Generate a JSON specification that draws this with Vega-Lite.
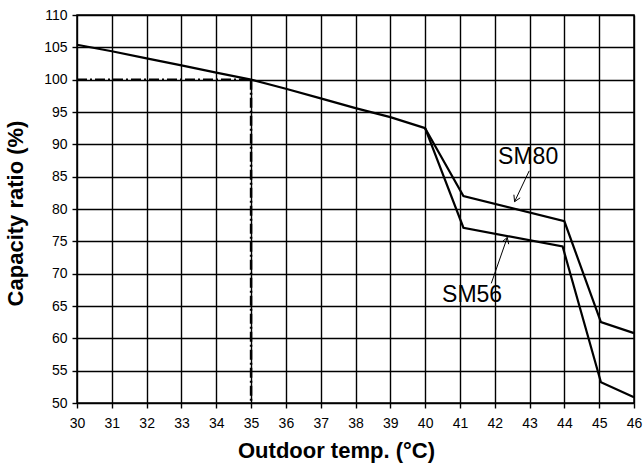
{
  "$schema": "https://vega.github.io/schema/vega-lite/v6.json",
  "width": 557,
  "height": 388,
  "autosize": "none",
  "padding": {"left": 77, "top": 15, "right": 9, "bottom": 64},
  "background": "white",
  "config": {
    "font": "Liberation Sans",
    "view": {"stroke": "black", "strokeWidth": 1.5},
    "axis": {
      "grid": true,
      "gridColor": "black",
      "gridWidth": 1.4,
      "gridOpacity": 1,
      "domain": false,
      "tickColor": "black",
      "tickSize": 5,
      "tickWidth": 1.4,
      "labelColor": "black",
      "labelFontSize": 14,
      "labelFont": "Liberation Sans",
      "labelOverlap": false,
      "labelFlush": false,
      "titleColor": "black",
      "titleFont": "Liberation Sans",
      "titleFontSize": 22,
      "titleFontWeight": "bold"
    }
  },
  "datasets": {
    "curves": [
      {"g": "base", "x": 30, "y": 105.4},
      {"g": "base", "x": 31, "y": 104.4},
      {"g": "base", "x": 32, "y": 103.3},
      {"g": "base", "x": 33, "y": 102.2},
      {"g": "base", "x": 34, "y": 101.1},
      {"g": "base", "x": 35, "y": 100.0},
      {"g": "base", "x": 36, "y": 98.6},
      {"g": "base", "x": 37, "y": 97.1},
      {"g": "base", "x": 38, "y": 95.6},
      {"g": "base", "x": 39, "y": 94.2},
      {"g": "base", "x": 40, "y": 92.5},
      {"g": "SM80", "x": 40, "y": 92.5},
      {"g": "SM80", "x": 41.1, "y": 82.0},
      {"g": "SM80", "x": 44.0, "y": 78.1},
      {"g": "SM80", "x": 45.05, "y": 62.5},
      {"g": "SM80", "x": 46, "y": 60.8},
      {"g": "SM56", "x": 40, "y": 92.5},
      {"g": "SM56", "x": 41.1, "y": 77.1},
      {"g": "SM56", "x": 43.95, "y": 74.2},
      {"g": "SM56", "x": 45.05, "y": 53.2},
      {"g": "SM56", "x": 46, "y": 50.9}
    ],
    "refs": [
      {"g": "h", "x": 30, "y": 100},
      {"g": "h", "x": 35, "y": 100},
      {"g": "v", "x": 35, "y": 100},
      {"g": "v", "x": 35, "y": 50}
    ],
    "arrows": [
      {"g": "a80", "x": 42.99, "y": 85.9},
      {"g": "a80", "x": 42.57, "y": 81.13},
      {"g": "a80w1", "x": 42.73, "y": 81.73},
      {"g": "a80w1", "x": 42.57, "y": 81.13},
      {"g": "a80w2", "x": 42.55, "y": 82.21},
      {"g": "a80w2", "x": 42.57, "y": 81.13},
      {"g": "a56", "x": 41.9, "y": 68.5},
      {"g": "a56", "x": 42.36, "y": 75.6},
      {"g": "a56w1", "x": 42.21, "y": 74.92},
      {"g": "a56w1", "x": 42.36, "y": 75.6},
      {"g": "a56w2", "x": 42.40, "y": 74.56},
      {"g": "a56w2", "x": 42.36, "y": 75.6}
    ],
    "labels": [
      {"label": "SM80", "x": 42.96, "y": 88.1},
      {"label": "SM56", "x": 41.35, "y": 66.7}
    ]
  },
  "encoding": {
    "x": {
      "field": "x", "type": "quantitative",
      "scale": {"domain": [30, 46], "nice": false, "zero": false},
      "axis": {"values": [30,31,32,33,34,35,36,37,38,39,40,41,42,43,44,45,46], "title": "Outdoor temp. (°C)", "labelPadding": 8, "titlePadding": 10, "titleX": 259}
    },
    "y": {
      "field": "y", "type": "quantitative",
      "scale": {"domain": [50, 110], "nice": false, "zero": false},
      "axis": {"values": [50,55,60,65,70,75,80,85,90,95,100,105,110], "title": "Capacity ratio (%)", "labelPadding": 5, "titlePadding": 16, "titleY": 198}
    }
  },
  "layer": [
    {
      "data": {"name": "refs"},
      "mark": {"type": "line", "color": "black", "strokeWidth": 2.5, "strokeDash": [10, 3, 2, 3]},
      "encoding": {"detail": {"field": "g"}}
    },
    {
      "data": {"name": "curves"},
      "mark": {"type": "line", "color": "black", "strokeWidth": 2.2},
      "encoding": {"detail": {"field": "g"}}
    },
    {
      "data": {"name": "arrows"},
      "mark": {"type": "line", "color": "black", "strokeWidth": 1},
      "encoding": {"detail": {"field": "g"}}
    },
    {
      "data": {"name": "labels"},
      "mark": {"type": "text", "color": "black", "fontSize": 23, "font": "Liberation Sans", "align": "center", "baseline": "middle"},
      "encoding": {"text": {"field": "label"}}
    }
  ]
}
